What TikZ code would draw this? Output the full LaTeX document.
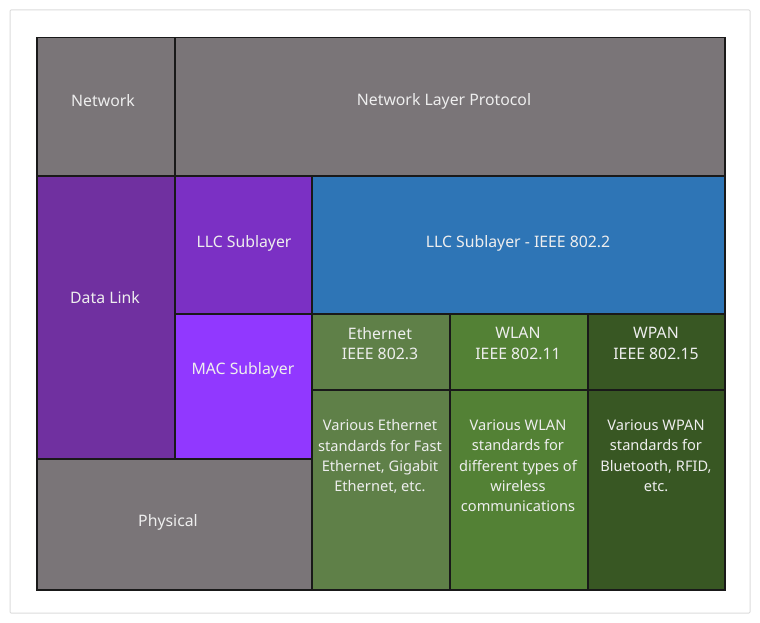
\documentclass[tikz,border=0pt]{standalone}
\usepackage{fontspec}
\setmainfont{Noto Sans}
\usetikzlibrary{positioning}
\definecolor{layergray}{HTML}{7A7578}
\definecolor{linkpurple}{HTML}{7030A0}
\definecolor{llcpurple}{HTML}{7B30C4}
\definecolor{macpurple}{HTML}{9138FF}
\definecolor{llcblue}{HTML}{2E75B6}
\definecolor{ethgreen}{HTML}{5F8048}
\definecolor{wlangreen}{HTML}{538135}
\definecolor{wpangreen}{HTML}{385723}
\definecolor{txtwhite}{HTML}{EEEEEE}

\begin{document}
\begin{tikzpicture}[x=1pt, y=-1pt]
	\tikzstyle{cell}=[draw=black!90, line width=1.5pt, anchor=north west, inner sep=0pt]
	\tikzstyle{txt}=[text=txtwhite, font=\fontsize{15.8}{20.3}\selectfont, align=center]
	\tikzstyle{desc}=[txt, anchor=north, font=\fontsize{14.6}{20.4}\selectfont]
	\useasboundingbox (0,0) rectangle (760,623);
	\draw[black!14, line width=1pt, rounded corners=1pt] (10,10) rectangle (750,613);

	% network layer
	\node[cell, fill=layergray, minimum width=138pt, minimum height=138pt] (network) at (36,37) {};
	\node[cell, fill=layergray, minimum width=550pt, minimum height=138pt] (nlp) at (174,37) {};
	\node[txt] (networktxt) at (103,101) {Network};
	\node[txt] (nlptxt) at (444,101) {Network Layer Protocol};

	% data link layer
	\node[cell, fill=linkpurple, minimum width=138pt, minimum height=283pt] (datalink) at (36,175) {};
	\node[cell, fill=llcpurple, minimum width=137pt, minimum height=138pt] (llc) at (174,175) {};
	\node[cell, fill=llcblue, minimum width=413pt, minimum height=138pt] (llcieee) at (311,175) {};
	\node[cell, fill=macpurple, minimum width=137pt, minimum height=145pt] (mac) at (174,313) {};
	\node[txt] (datalinktxt) at (105,298) {Data Link};
	\node[txt] (llctxt) at (244,243) {LLC Sublayer};
	\node[txt] (llcieeetxt) at (518,243) {LLC Sublayer - IEEE 802.2};
	\node[txt] (mactxt) at (243,370) {MAC Sublayer};

	% mac standards
	\node[cell, fill=ethgreen, minimum width=138pt, minimum height=76pt] (eth) at (311,313) {};
	\node[cell, fill=wlangreen, minimum width=138pt, minimum height=76pt] (wlan) at (449,313) {};
	\node[cell, fill=wpangreen, minimum width=137pt, minimum height=76pt] (wpan) at (587,313) {};
	\node[cell, fill=ethgreen, minimum width=138pt, minimum height=200pt] (ethdesc) at (311,389) {};
	\node[cell, fill=wlangreen, minimum width=138pt, minimum height=200pt] (wlandesc) at (449,389) {};
	\node[cell, fill=wpangreen, minimum width=137pt, minimum height=200pt] (wpandesc) at (587,389) {};
	\node[txt, anchor=north] (ethtxt) at (380,324) {Ethernet\\IEEE 802.3};
	\node[txt, anchor=north] (wlantxt) at (518,324) {WLAN\\IEEE 802.11};
	\node[txt, anchor=north] (wpantxt) at (656,324) {WPAN\\IEEE 802.15};
	\node[desc] (ethdesctxt) at (380,416) {Various Ethernet\\standards for Fast\\Ethernet, Gigabit\\Ethernet, etc.};
	\node[desc] (wlandesctxt) at (518,416) {Various WLAN\\standards for\\different types of\\wireless\\communications};
	\node[desc] (wpandesctxt) at (656,416) {Various WPAN\\standards for\\Bluetooth, RFID,\\etc.};

	% physical layer
	\node[cell, fill=layergray, minimum width=275pt, minimum height=131pt] (physical) at (36,458) {};
	\node[txt] (physicaltxt) at (168,522) {Physical};
\end{tikzpicture}
\end{document}
